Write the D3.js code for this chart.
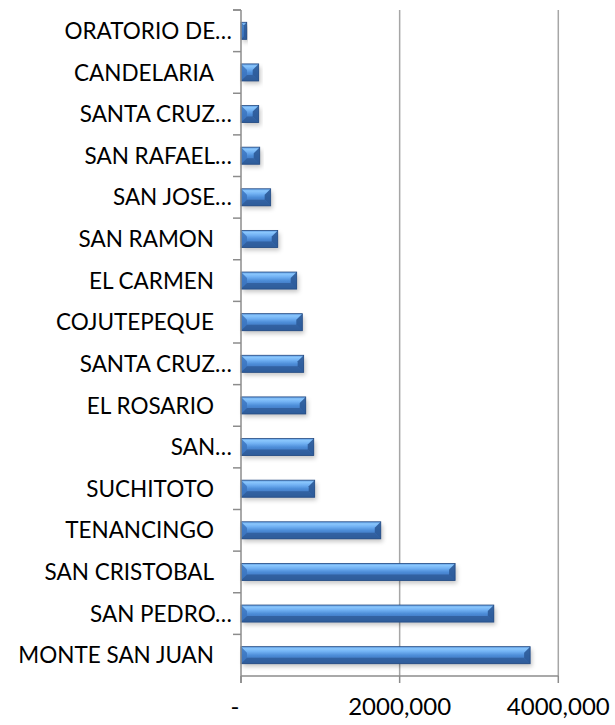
<!DOCTYPE html>
<html><head><meta charset="utf-8">
<script src="https://cdn.jsdelivr.net/npm/d3@7"></script>
<style>body{margin:0;background:#fff}svg{display:block}</style>
</head><body>
<script>
const categories = ["MONTE SAN JUAN","SAN PEDRO…","SAN CRISTOBAL","TENANCINGO","SUCHITOTO","SAN…","EL ROSARIO","SANTA CRUZ…","COJUTEPEQUE","EL CARMEN","SAN RAMON","SAN JOSE…","SAN RAFAEL…","SANTA CRUZ…","CANDELARIA","ORATORIO DE…"];
const values = [3645000,3187000,2699000,1762000,929000,917000,816000,790000,773000,702000,463000,374000,236000,223000,223000,72000];
const xTicks = [0,2000000,4000000];
const xTickLabels = ["- ","2000,000","4000,000"];

(function(){
const W=615,H=725;
const svg=d3.select("body").append("svg").attr("width",W).attr("height",H);
const defs=svg.append("defs");
const g1=defs.append("linearGradient").attr("id","bg").attr("x1",0).attr("x2",0).attr("y1",0).attr("y2",1);
[[0,"#5c9be2"],[0.12,"#8ac6fc"],[0.28,"#72b2f4"],[0.5,"#4e8ed9"],[0.75,"#3f76c0"],[1,"#30609e"]].forEach(s=>g1.append("stop").attr("offset",s[0]).attr("stop-color",s[1]));
const f=defs.append("filter").attr("id","sh").attr("x","-10%").attr("y","-30%").attr("width","130%").attr("height","200%");
f.append("feDropShadow").attr("dx",2).attr("dy",3).attr("stdDeviation",2.2).attr("flood-color","#000").attr("flood-opacity",0.22);

const pL=241,pR=558.3,pT=10,pB=676;
const x=d3.scaleLinear().domain([0,4000000]).range([pL,pR]);
const y=d3.scaleBand().domain(categories.map((c,i)=>i)).range([pB,pT]).paddingInner(0.59).paddingOuter(0.295);
const yb=d3.scaleBand().domain(categories.map((c,i)=>i)).range([pB,pT]);

svg.append("g").selectAll("line").data(xTicks.slice(1)).join("line")
 .attr("x1",d=>x(d)).attr("x2",d=>x(d)).attr("y1",pT).attr("y2",pB)
 .attr("stroke","#a6a6a6").attr("stroke-width",1.5);

const bars=svg.append("g").selectAll("g").data(values).join("g")
 .attr("transform",(d,i)=>`translate(${pL},${y(i)})`);
const bh=y.bandwidth();
bars.append("rect").attr("width",d=>x(d)-pL).attr("height",bh).attr("fill","url(#bg)")
 .attr("filter","url(#sh)");
bars.each(function(d){
 const w=x(d)-pL; const b=Math.min(6,w/2,bh/2);
 const s=d3.select(this);
 s.append("polygon").attr("points",`0,0 ${b},${b} ${b},${bh-b} 0,${bh}`).attr("fill","#3c76c0").attr("opacity",0.85);
 s.append("polygon").attr("points",`${w},0 ${w-b},${b} ${w-b},${bh-b} ${w},${bh}`).attr("fill","#2c5a98").attr("opacity",0.9);
 s.append("polygon").attr("points",`${b},${bh-b} ${w-b},${bh-b} ${w},${bh} 0,${bh}`).attr("fill","#2e5b98").attr("opacity",0.8);
 s.append("rect").attr("width",w).attr("height",bh).attr("fill","none").attr("stroke","#254b82").attr("stroke-width",0.8);
});

const ya=svg.append("g").attr("stroke","#8c8c8c").attr("stroke-width",1.5);
ya.append("line").attr("x1",pL).attr("x2",pL).attr("y1",pT).attr("y2",pB+7);
const bounds=categories.map((c,i)=>yb(i)).concat([pT]);
ya.selectAll("line.t").data(bounds).join("line").attr("class","t")
 .attr("x1",pL-8).attr("x2",pL).attr("y1",d=>d).attr("y2",d=>d);

svg.append("g").selectAll("text").data(categories).join("text")
 .attr("x",d=>d.endsWith("…")?232:214).attr("y",(d,i)=>yb(i)+yb.bandwidth()/2).attr("dy","0.36em")
 .attr("text-anchor","end")
 .attr("font-family","Lato, 'Open Sans', sans-serif").attr("font-size",22.5).attr("fill","#000")
 .text(d=>d);

const xa=svg.append("g").attr("stroke","#8c8c8c").attr("stroke-width",1.5);
xa.append("line").attr("x1",pL).attr("x2",pR).attr("y1",pB).attr("y2",pB);
xa.selectAll("line.t").data(xTicks).join("line").attr("class","t")
 .attr("x1",d=>x(d)).attr("x2",d=>x(d)).attr("y1",pB).attr("y2",pB+7);
svg.append("g").selectAll("text").data(xTicks).join("text")
 .attr("x",(d,i)=>i===0?x(d)-6:x(d)).attr("y",715).attr("text-anchor","middle")
 .attr("font-family","Lato, 'Open Sans', sans-serif").attr("font-size",24).attr("fill","#000")
 .text((d,i)=>xTickLabels[i].trim());
})();
</script>
</body></html>
